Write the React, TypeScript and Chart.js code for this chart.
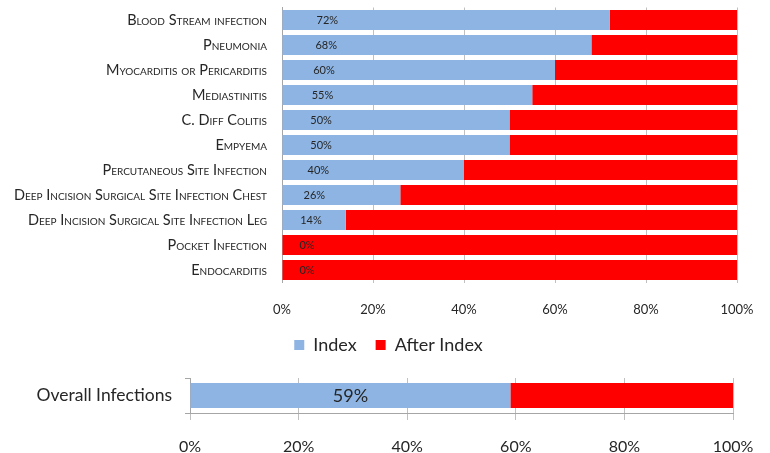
import React, { useEffect, useRef } from "react";
import { Chart, registerables } from "chart.js";
Chart.register(...registerables);

const categories = [
  "Blood Stream infection",
  "Pneumonia",
  "Myocarditis or Pericarditis",
  "Mediastinitis",
  "C. Diff Colitis",
  "Empyema",
  "Percutaneous Site Infection",
  "Deep Incision Surgical Site Infection Chest",
  "Deep Incision Surgical Site Infection Leg",
  "Pocket Infection",
  "Endocarditis",
];
const indexValues = [72, 68, 60, 55, 50, 50, 40, 26, 14, 0, 0];
const afterIndexValues = [28, 32, 40, 45, 50, 50, 60, 74, 86, 100, 100];

const overallCategories = ["Overall Infections"];
const overallIndex = [59];
const overallAfter = [41];

const tickLabels = ["0%", "20%", "40%", "60%", "80%", "100%"];
const seriesNames = ["Index", "After Index"];

const BLUE = "#8DB4E2";
const RED = "#FF0000";
const TEXT = "#262626";
const GRID = "#C0C0C0";
const AXIS = "#A6A6A6";
const FONT = "Lato";

const baseLabelPlugin = {
  id: "baseLabels",
  afterDatasetsDraw(chart: any) {
    const meta = chart.getDatasetMeta(0);
    const xs = chart.scales.x;
    const x0 = xs.getPixelForValue(0);
    const ctx = chart.ctx;
    ctx.save();
    ctx.font = `11px ${FONT}`;
    ctx.fillStyle = TEXT;
    ctx.textAlign = "center";
    ctx.textBaseline = "middle";
    meta.data.forEach((bar: any, i: number) => {
      const v = chart.data.datasets[0].data[i];
      const x = x0 + 25 + 0.062 * (bar.x - x0);
      ctx.fillText(v + "%", x, bar.y + 0.5);
    });
    ctx.restore();
  },
};

const centerLabelPlugin = {
  id: "centerLabels",
  afterDatasetsDraw(chart: any) {
    const meta = chart.getDatasetMeta(0);
    const ctx = chart.ctx;
    ctx.save();
    ctx.font = `18px ${FONT}`;
    ctx.fillStyle = TEXT;
    ctx.textAlign = "center";
    ctx.textBaseline = "middle";
    meta.data.forEach((bar: any, i: number) => {
      const v = chart.data.datasets[0].data[i];
      ctx.fillText(v + "%", (bar.x + bar.base) / 2, bar.y + 1);
    });
    ctx.restore();
  },
};

const fixBox = (w?: number, h?: number) => (s: any) => {
  if (w !== undefined) s.width = w;
  if (h !== undefined) s.height = h;
  s.paddingTop = 0;
  s.paddingBottom = 0;
  s.paddingLeft = 0;
  s.paddingRight = 0;
};

export default function App() {
  const mainRef = useRef<HTMLCanvasElement>(null);
  const overallRef = useRef<HTMLCanvasElement>(null);

  useEffect(() => {
    const main = new Chart(mainRef.current!, {
      type: "bar",
      data: {
        labels: categories,
        datasets: [
          {
            label: seriesNames[0],
            data: indexValues,
            backgroundColor: BLUE,
            borderWidth: 0,
            barPercentage: 0.8,
            categoryPercentage: 1,
          },
          {
            label: seriesNames[1],
            data: afterIndexValues,
            backgroundColor: RED,
            borderWidth: 0,
            barPercentage: 0.8,
            categoryPercentage: 1,
          },
        ],
      },
      options: {
        indexAxis: "y",
        responsive: false,
        animation: false,
        layout: { autoPadding: false, padding: { left: 7, right: 0, top: 7.5, bottom: 0 } },
        scales: {
          x: {
            stacked: true,
            min: 0,
            max: 100,
            ticks: {
              stepSize: 20,
              callback: (_v: any, i: number) => tickLabels[i],
              padding: 20,
              maxRotation: 0,
              color: TEXT,
              font: { family: FONT, size: 13 },
            },
            grid: { color: GRID, drawTicks: false },
            border: { display: false },
            afterFit: fixBox(undefined, 34.5),
          },
          y: {
            stacked: true,
            ticks: {
              autoSkip: false,
              padding: 15,
              color: TEXT,
              font: { family: FONT, size: 14.5, weight: "small-caps" as any },
            },
            grid: { display: false, drawTicks: false },
            border: { display: true, color: AXIS },
            afterFit: fixBox(275),
          },
          yRight: {
            type: "category",
            position: "right",
            display: true,
            ticks: { display: false },
            grid: { display: false, drawTicks: false },
            border: { display: false },
            afterFit: fixBox(33),
          },
        },
        plugins: {
          legend: {
            position: "bottom",
            labels: {
              boxWidth: 10,
              boxHeight: 10,
              padding: 19,
              color: TEXT,
              font: { family: FONT, size: 18 },
            },
          },
          tooltip: { enabled: false },
        },
      },
      plugins: [baseLabelPlugin],
    });

    const overall = new Chart(overallRef.current!, {
      type: "bar",
      data: {
        labels: overallCategories,
        datasets: [
          {
            label: seriesNames[0],
            data: overallIndex,
            backgroundColor: BLUE,
            borderWidth: 0,
            barPercentage: 25 / 35,
            categoryPercentage: 1,
          },
          {
            label: seriesNames[1],
            data: overallAfter,
            backgroundColor: RED,
            borderWidth: 0,
            barPercentage: 25 / 35,
            categoryPercentage: 1,
          },
        ],
      },
      options: {
        indexAxis: "y",
        responsive: false,
        animation: false,
        layout: { autoPadding: false, padding: { left: 0, right: 37, top: 14, bottom: 0 } },
        scales: {
          x: {
            stacked: true,
            min: 0,
            max: 100,
            ticks: {
              stepSize: 20,
              callback: (_v: any, i: number) => tickLabels[i],
              padding: 17,
              maxRotation: 0,
              color: TEXT,
              font: { family: FONT, size: 16 },
            },
            grid: { color: GRID, drawTicks: true, tickLength: 7 },
            border: { display: true, color: AXIS },
            afterFit: fixBox(undefined, 40),
          },
          y: {
            stacked: true,
            ticks: {
              padding: 13,
              color: TEXT,
              font: { family: FONT, size: 17.5 },
            },
            grid: {
              display: true,
              drawOnChartArea: false,
              drawTicks: true,
              tickLength: 5,
              color: AXIS,
              offset: true,
            },
            border: { display: true, color: AXIS },
            afterFit: fixBox(190),
          },
        },
        plugins: {
          legend: { display: false },
          tooltip: { enabled: false },
        },
      },
      plugins: [centerLabelPlugin],
    });

    return () => {
      main.destroy();
      overall.destroy();
    };
  }, []);

  return (
    <div style={{ position: "absolute", left: 0, top: 0, width: 770, height: 453, background: "#fff" }}>
      <canvas
        ref={mainRef}
        width={770}
        height={364}
        style={{ position: "absolute", left: 0, top: 0, width: 770, height: 364 }}
      />
      <canvas
        ref={overallRef}
        width={770}
        height={89}
        style={{ position: "absolute", left: 0, top: 364, width: 770, height: 89 }}
      />
    </div>
  );
}
